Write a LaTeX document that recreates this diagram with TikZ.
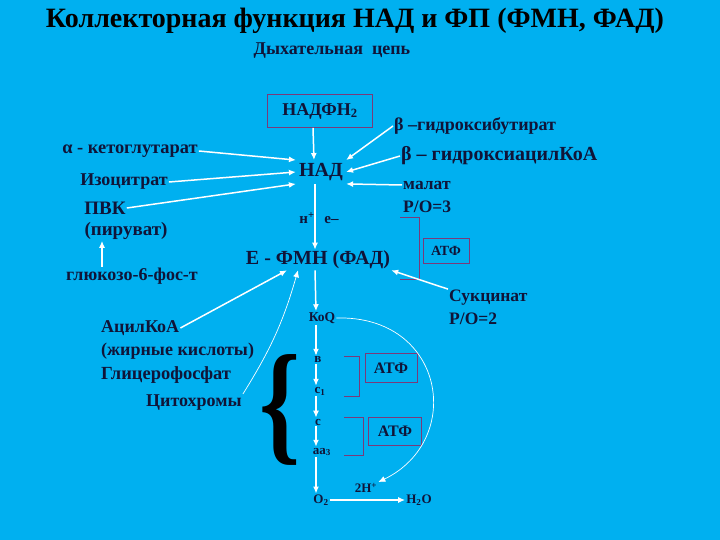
\documentclass[tikz,border=0pt]{standalone}
\usepackage{fontspec}
\setmainfont{Liberation Serif}
\usetikzlibrary{arrows.meta}
\definecolor{sky}{RGB}{0,176,240}
\definecolor{ink}{RGB}{16,20,56}
\definecolor{frame}{RGB}{122,58,122}
\newcommand{\fs}[1]{\fontsize{#1}{#1}\selectfont\bfseries}

\begin{document}
\begin{tikzpicture}[x=1pt,y=-1pt,>={Latex[length=7pt,width=6pt]},
  lbl/.style={text=ink,inner sep=1pt},
  wline/.style={draw=white,line width=1.5pt,->},
  thinline/.style={draw=white,line width=0.7pt,->},
  boxline/.style={draw=frame,line width=0.9pt}]
  \fill[sky] (0,0) rectangle (720,540);
  \useasboundingbox (0,0) rectangle (720,540);
  % titulos
  \node[lbl,text=black] (title) at (355,21) {\fs{28}Коллекторная функция НАД и ФП (ФМН, ФАД)};
  \node[lbl] (subtitle) at (332,51) {\fs{18}Дыхательная\ \ цепь};
  % cadena principal
  \node[lbl,boxline,minimum width=105pt,minimum height=33pt] (nadph) at (320,111) {\fs{18}НАДФН\textsubscript{2}};
  \node[lbl,inner sep=3pt] (nad) at (321,172) {\fs{20}НАД};
  \node[lbl] (hplus) at (319,218) {\fs{15}н\textsuperscript{+}\hspace{10pt}е–};
  \node[lbl] (fmn) at (318,260) {\fs{20}Е - ФМН (ФАД)};
  \node[lbl] (koq) at (322,318) {\fs{13.5}КоQ};
  \node[lbl] (cytb) at (318,360) {\fs{13}в};
  \node[lbl] (cytcone) at (320,391) {\fs{13}c\textsubscript{1}};
  \node[lbl] (cytc) at (318,422) {\fs{13}c};
  \node[lbl] (aathree) at (322,452) {\fs{13}aa\textsubscript{3}};
  \node[lbl] (otwo) at (321,500) {\fs{13}O\textsubscript{2}};
  \node[lbl] (twoh) at (366,488) {\fs{13}2H\textsuperscript{+}};
  \node[lbl] (htwoo) at (419,500) {\fs{13}H\textsubscript{2}O};
  % substratos izquierda
  \node[lbl] (akg) at (130,151) {\fs{18.4}α - кетоглутарат};
  \node[lbl] (isocit) at (124,182) {\fs{18}Изоцитрат};
  \node[lbl] (pvk) at (105,208) {\fs{19}ПВК};
  \node[lbl] (pyruv) at (126,231) {\fs{19}(пируват)};
  \node[lbl] (glc) at (132,276) {\fs{18}глюкозо-6-фос-т};
  \node[lbl,anchor=west] (acyl) at (100,328) {\fs{18}АцилКоА};
  \node[lbl,anchor=west] (fatty) at (100,351) {\fs{18}(жирные кислоты)};
  \node[lbl,anchor=west] (glycero) at (100,375) {\fs{18.5}Глицерофосфат};
  \node[lbl,anchor=west] (cytochr) at (145,403) {\fs{18}Цитохромы};
  % substratos derecha
  \node[lbl,anchor=west] (bhb) at (393,126) {\fs{18}β –гидроксибутират};
  \node[lbl,anchor=west] (bhacyl) at (400,156) {\fs{20}β – гидроксиацилКоА};
  \node[lbl,anchor=west] (malat) at (402,185) {\fs{17.5}малат};
  \node[lbl,anchor=west] (potri) at (402,207) {\fs{17.5}P/O=3};
  \node[lbl,anchor=west] (succ) at (448,298) {\fs{17.5}Сукцинат};
  \node[lbl,anchor=west] (podva) at (448,319) {\fs{17.5}P/O=2};
  % ATP
  \node[lbl,boxline,minimum width=46pt,minimum height=25pt] (atpa) at (446,251) {\fs{14}АТФ};
  \node[lbl,boxline,minimum width=52pt,minimum height=29pt] (atpb) at (391,368) {\fs{16}АТФ};
  \node[lbl,boxline,minimum width=53pt,minimum height=28pt] (atpc) at (395,431) {\fs{16}АТФ};
  \draw[boxline] (400,217) -- (419,217) -- (419,279) -- (400,279);
  \draw[boxline] (344,356) -- (359,356) -- (359,396) -- (344,396);
  \draw[boxline] (344,417) -- (363,417) -- (363,455) -- (344,455);
  % llave
  \node[inner sep=0pt] (brace) at (280,410) {\scalebox{0.78}[1]{\fontsize{134}{134}\selectfont\bfseries\{}};
  % flechas
  \draw[wline] ([xshift=-7pt]nadph.south) -- ([xshift=-7pt]nad.north);
  \draw[wline] ([xshift=-6pt]nad.south) -- ([xshift=-3pt]fmn.north);
  \draw[wline] ([xshift=-3pt]fmn.south) -- ([xshift=-6pt]koq.north);
  \draw[wline] ([xshift=-6pt]koq.south) -- ([xshift=-2pt]cytb.north);
  \draw[wline] ([xshift=-2pt]cytb.south) -- ([xshift=-4pt]cytcone.north);
  \draw[wline] ([xshift=-4pt]cytcone.south) -- ([xshift=-2pt]cytc.north);
  \draw[wline] ([xshift=-2pt]cytc.south) -- ([xshift=-6pt]aathree.north);
  \draw[wline] ([xshift=-6pt]aathree.south) -- ([xshift=-5pt]otwo.north);
  \draw[wline] (otwo.east) -- (htwoo.west);
  \draw[wline] (akg.east) -- (nad.north west);
  \draw[wline] (isocit.east) -- (nad.west);
  \draw[wline] (pvk.east) -- (nad.south west);
  \draw[wline] (bhb.west) -- (nad.north east);
  \draw[wline] (bhacyl.west) -- (nad.east);
  \draw[wline] (malat.west) -- (nad.south east);
  \draw[wline] ([xshift=-30pt]glc.north) -- ([xshift=-24pt]pyruv.south);
  \draw[wline] (acyl.east) -- ([xshift=-31pt]fmn.south);
  \draw[thinline] (cytochr.north east) to[bend right=8] ([xshift=-20pt]fmn.south);
  \draw[wline] (succ.north west) -- (fmn.south east);
  \draw[thinline] (koq.east) .. controls (445,315) and (465,440) .. (twoh.north east);
\end{tikzpicture}
\end{document}
